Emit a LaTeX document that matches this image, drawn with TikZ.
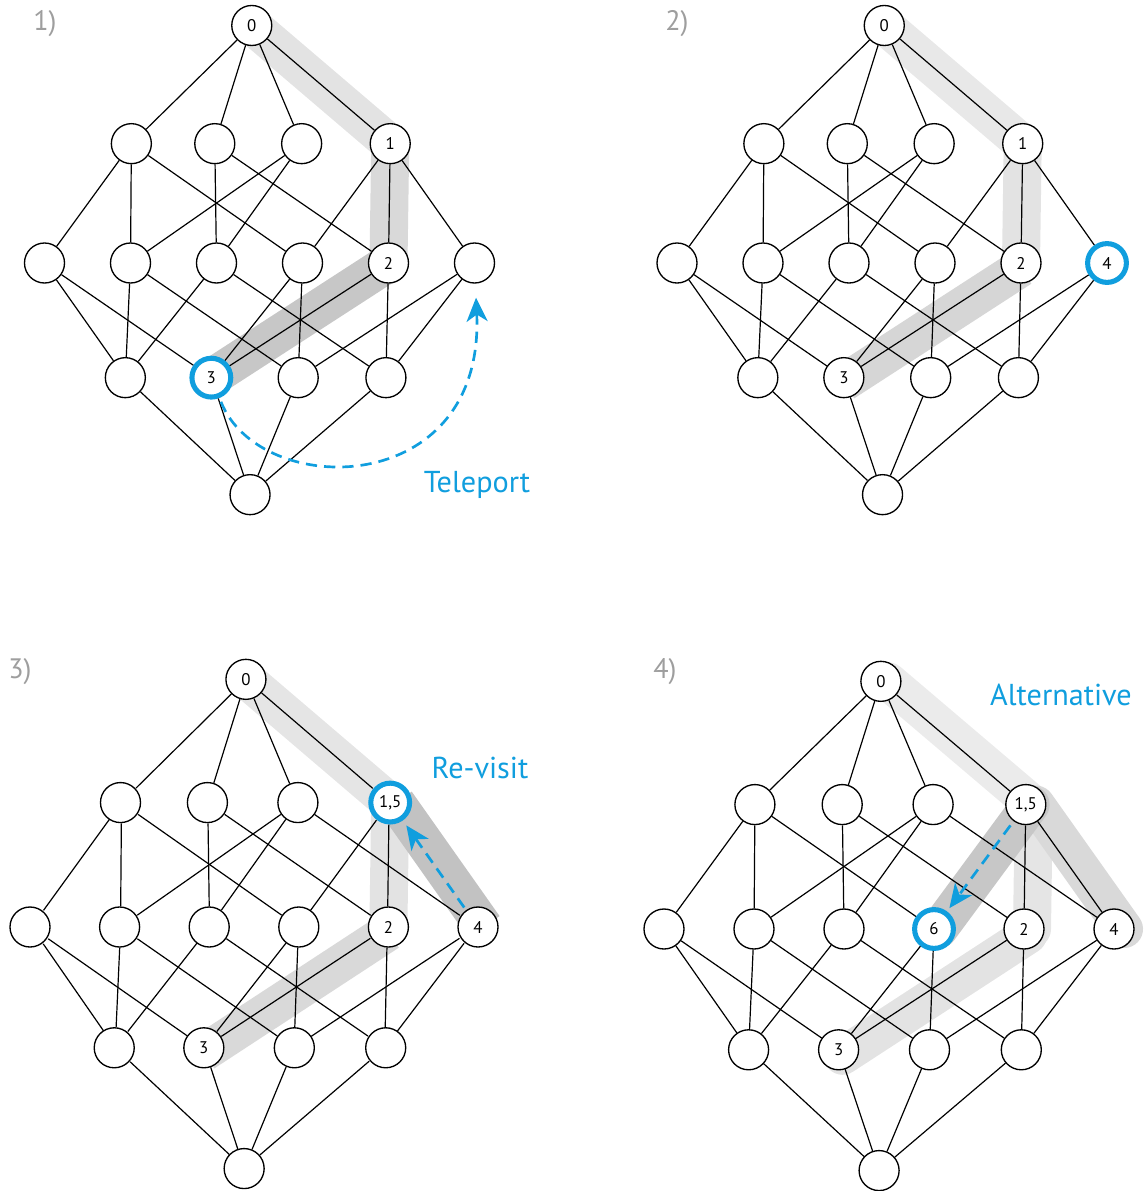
\documentclass[tikz,border=0pt]{standalone}
\usepackage{fontspec}
\setmainfont{PT Sans}
\usetikzlibrary{arrows.meta}
\definecolor{tblue}{RGB}{16,158,222}
\pgfdeclarelayer{bg}
\pgfsetlayers{bg,main}
% edges shared by all four lattices
\newcommand{\latedges}{t/u1,t/u2,t/u3,t/u4,u1/v1,u1/v2,u1/v4,u2/v3,u2/v5,u3/v2,u3/v3,u4/v5,v1/w1,v1/w2,v2/w1,v2/w3,v3/w1,v3/w4,v4/w2,v4/w3,v5/w2,v5/w4,v6/w3,v6/w4,w1/z,w2/z,w3/z,w4/z}

\begin{document}
\begin{tikzpicture}[x=0.025cm,y=-0.025cm,
  vx/.style={circle,draw,fill=white,line width=0.95pt,minimum size=1cm,inner sep=0pt,font=\fontsize{12}{12}\selectfont},
  ring/.style={vx,draw=tblue,line width=3.6pt,minimum size=0.97cm},
  edge/.style={line width=0.85pt},
  band/.style={line width=0.95cm},
  jump/.style={tblue,line width=1.9pt,dash pattern=on 8pt off 5pt,-{Stealth[length=17pt,width=15pt,inset=5pt]}},
  note/.style={text=tblue,font=\fontsize{21.5}{24}\selectfont,anchor=base,inner sep=0pt},
  tag/.style={text=black!38,font=\fontsize{20}{22}\selectfont,anchor=base,inner sep=0pt}]
\useasboundingbox (0,0) rectangle (1148,1191);

% 1) teleport
\begin{scope}[shift={(259.5,263)},xscale=86,yscale=117,name prefix=p1-]
\node[vx] (t) at (-0.09,-2.03) {0};
\node[vx] (u1) at (-1.49,-1.02) {};
\node[vx] (u2) at (-0.52,-1.02) {};
\node[vx] (u3) at (0.49,-1.02) {};
\node[vx] (u4) at (1.52,-1.02) {1};
\node[vx] (v1) at (-2.5,0) {};
\node[vx] (v2) at (-1.5,0) {};
\node[vx] (v3) at (-0.5,0) {};
\node[vx] (v4) at (0.5,0) {};
\node[vx] (v5) at (1.5,0) {2};
\node[vx] (v6) at (2.5,0) {};
\node[vx] (w1) at (-1.56,0.98) {};
\node[ring] (w2) at (-0.56,0.98) {3};
\node[vx] (w3) at (0.45,0.98) {};
\node[vx] (w4) at (1.47,0.98) {};
\node[vx] (z) at (-0.11,1.98) {};
\foreach \a/\b in \latedges \draw[edge] (\a) -- (\b);
\draw[edge] (u4) -- (v4);
\draw[edge] (u4) -- (v6);
\end{scope}

% 2)
\begin{scope}[shift={(892,263)},xscale=86,yscale=117,name prefix=p2-]
\node[vx] (t) at (-0.09,-2.03) {0};
\node[vx] (u1) at (-1.49,-1.02) {};
\node[vx] (u2) at (-0.52,-1.02) {};
\node[vx] (u3) at (0.49,-1.02) {};
\node[vx] (u4) at (1.52,-1.02) {1};
\node[vx] (v1) at (-2.5,0) {};
\node[vx] (v2) at (-1.5,0) {};
\node[vx] (v3) at (-0.5,0) {};
\node[vx] (v4) at (0.5,0) {};
\node[vx] (v5) at (1.5,0) {2};
\node[ring] (v6) at (2.5,0) {4};
\node[vx] (w1) at (-1.56,0.98) {};
\node[vx] (w2) at (-0.56,0.98) {3};
\node[vx] (w3) at (0.45,0.98) {};
\node[vx] (w4) at (1.47,0.98) {};
\node[vx] (z) at (-0.11,1.98) {};
\foreach \a/\b in \latedges \draw[edge] (\a) -- (\b);
\draw[edge] (u4) -- (v4);
\draw[edge] (u4) -- (v6);
\end{scope}

% 3) re-visit
\begin{scope}[shift={(254,927)},xscale=89.6,yscale=122,name prefix=p3-]
\node[vx] (t) at (-0.09,-2.03) {0};
\node[vx] (u1) at (-1.49,-1.02) {};
\node[vx] (u2) at (-0.52,-1.02) {};
\node[vx] (u3) at (0.49,-1.02) {};
\node[ring] (u4) at (1.52,-1.02) {1,5};
\node[vx] (v1) at (-2.5,0) {};
\node[vx] (v2) at (-1.5,0) {};
\node[vx] (v3) at (-0.5,0) {};
\node[vx] (v4) at (0.5,0) {};
\node[vx] (v5) at (1.5,0) {2};
\node[vx] (v6) at (2.5,0) {4};
\node[vx] (w1) at (-1.56,0.99) {};
\node[vx] (w2) at (-0.56,0.99) {3};
\node[vx] (w3) at (0.45,0.99) {};
\node[vx] (w4) at (1.47,0.99) {};
\node[vx] (z) at (-0.11,1.98) {};
\foreach \a/\b in \latedges \draw[edge] (\a) -- (\b);
\draw[edge] (u4) -- (v4);
\draw[edge] (u3) -- (v6);
\end{scope}

% 4) alternative
\begin{scope}[shift={(889,929)},xscale=90,yscale=122,name prefix=p4-]
\node[vx] (t) at (-0.09,-2.03) {0};
\node[vx] (u1) at (-1.49,-1.02) {};
\node[vx] (u2) at (-0.52,-1.02) {};
\node[vx] (u3) at (0.49,-1.02) {};
\node[vx] (u4) at (1.52,-1.02) {1,5};
\node[vx] (v1) at (-2.5,0) {};
\node[vx] (v2) at (-1.5,0) {};
\node[vx] (v3) at (-0.5,0) {};
\node[ring] (v4) at (0.5,0) {6};
\node[vx] (v5) at (1.5,0) {2};
\node[vx] (v6) at (2.5,0) {4};
\node[vx] (w1) at (-1.56,0.99) {};
\node[vx] (w2) at (-0.56,0.99) {3};
\node[vx] (w3) at (0.45,0.99) {};
\node[vx] (w4) at (1.47,0.99) {};
\node[vx] (z) at (-0.11,1.98) {};
\foreach \a/\b in \latedges \draw[edge] (\a) -- (\b);
\draw[edge] (u4) -- (v6);
\draw[edge] (u3) -- (v6);
\end{scope}

% grey trails behind the lattices
\begin{pgfonlayer}{bg}
\draw[band,black!11] (p1-t.center) -- (p1-u4.center);
\draw[band,black!15] (p1-u4.center) -- (p1-v5.center);
\draw[band,black!22] (p1-v5.center) -- (p1-w2.center);
\draw[band,black!9] (p2-t.center) -- (p2-u4.center);
\draw[band,black!11] (p2-u4.center) -- (p2-v5.center);
\draw[band,black!16] ([yshift=-0.12cm]p2-v5.center) -- ([yshift=-0.12cm]p2-w2.center);
\draw[band,black!10] (p3-t.center) -- (p3-u4.center);
\draw[band,black!11] (p3-u4.center) -- (p3-v5.center);
\draw[band,black!15] ([yshift=-0.12cm]p3-v5.center) -- ([yshift=-0.12cm]p3-w2.center);
\draw[band,black!24] ([xshift=0.15cm]p3-v6.center) -- ([xshift=0.15cm]p3-u4.center);
\begin{scope}[band/.append style={line cap=round}]
\draw[band,black!8] ([xshift=0.18cm]p4-t.center) -- ([xshift=0.18cm]p4-u4.center);
\draw[band,black!10] ([xshift=0.2cm]p4-u4.center) -- ([xshift=0.2cm]p4-v5.center);
\draw[band,black!11] ([xshift=0.1cm,yshift=-0.15cm]p4-v5.center) -- ([xshift=0.1cm,yshift=-0.15cm]p4-w2.center);
\draw[band,black!15] ([xshift=0.25cm]p4-u4.center) -- ([xshift=0.25cm]p4-v6.center);
\draw[band,black!22] ([xshift=0.12cm]p4-u4.center) -- ([xshift=0.12cm]p4-v4.center);
\end{scope}
\end{pgfonlayer}

% blue moves
\draw[jump,shorten <=0.1cm,shorten >=0.35cm] (p1-w2) .. controls (260,500) and (485,500) .. (p1-v6);
\draw[jump,shorten <=0.08cm,shorten >=0.15cm] (p3-v6) -- (p3-u4);
\draw[jump,shorten <=0.13cm,shorten >=0.1cm] (p4-u4) -- (p4-v4);

\node[note] (tele) at (477,492) {Teleport};
\node[note] (revisit) at (480,778) {Re-visit};
\node[note] (alt) at (1061,705) {Alternative};

\node[tag] (lab1) at (45,30) {1)};
\node[tag] (lab2) at (677,30) {2)};
\node[tag] (lab3) at (20,678) {3)};
\node[tag] (lab4) at (665,678) {4)};
\end{tikzpicture}
\end{document}
